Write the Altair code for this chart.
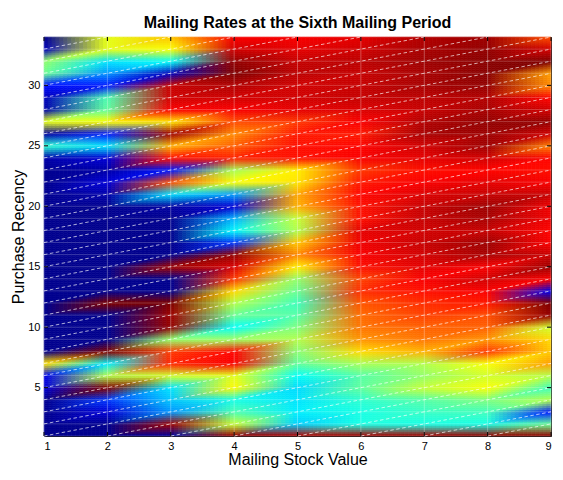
import altair as alt
import pandas as pd

alt.data_transformers.disable_max_rows()

TITLE = "Mailing Rates at the Sixth Mailing Period"
X_TITLE = "Mailing Stock Value"
Y_TITLE = "Purchase Recency"
x_ticks = [1, 2, 3, 4, 5, 6, 7, 8, 9]
y_ticks = [5, 10, 15, 20, 25, 30]

# Mailing rate on a 0-100 colour-map position, listed from recency 34 down to 1
col1 = [0,5,52,48,14,5,3,60,2,42,3,0,0,0,0,0,0,0,0,0,0,0,0,0,0,0,0,65,10,8,0,0,0,0]
col2 = [60,60,35,27,15,45,47,62,15,35,8,3,8,3,0,0,0,0,0,0,0,0,100,0,0,0,100,36,55,100,18,8,0,0]
col3 = [68,62,38,5,93,92,88,65,97,70,86,15,80,34,2,0,0,0,0,97,0,0,100,97,98,52,82,84,58,35,32,27,97,2]
col4 = [88,92,98,100,95,92,88,80,74,78,84,54,62,28,8,30,37,18,98,91,82,66,55,48,38,53,87,88,60,63,40,45,57,97]
col5 = [88,90,93,94,92,92,90,82,85,86,86,64,65,71,70,57,55,68,74,64,52,48,44,46,50,55,51,47,38,34,35,36,33,95]
col6 = [90,92,94,93,93,93,91,88,85,87,88,82,85,87,86,86,90,89,88,86,81,83,79,77,76,73,66,54,46,47,42,40,40,96]
col7 = [95,96,97,96,96,94,93,95,96,92,90,86,88,91,93,93,92,93,92,90,88,86,83,81,78,76,70,55,52,57,46,43,40,96]
col8 = [97,98,99,99,98,95,96,98,97,97,92,87,90,93,97,96,93,97,96,88,92,88,85,80,78,73,82,62,58,62,50,44,40,98]
col9 = [80,92,100,72,74,87,92,98,92,75,87,86,88,93,89,89,87,88,93,97,88,10,100,98,58,66,68,72,55,44,55,15,48,98]

columns = [col1, col2, col3, col4, col5, col6, col7, col8, col9]
recency = list(range(34, 0, -1))
stock = x_ticks


def jet(p):
    p = p / 100
    stops = [(0, (0, 0, .5625)), (.125, (0, 0, 1)), (.375, (0, 1, 1)),
             (.625, (1, 1, 0)), (.875, (1, 0, 0)), (1, (.5, 0, 0))]
    for (a, ca), (b, cb) in zip(stops, stops[1:]):
        if p <= b:
            t = (p - a) / (b - a)
            return tuple(x + (y - x) * t for x, y in zip(ca, cb))
    return stops[-1][1]


vertex = {(s, r): jet(columns[i][k]) for i, s in enumerate(stock) for k, r in enumerate(recency)}

# Gouraud shading of the triangular mesh: the colours of each triangle's corners are blended
NX, NY = 16, 6
rows = []
for s in stock[:-1]:
    for r in range(1, 34):
        c00, c10 = vertex[(s, r)], vertex[(s + 1, r)]
        c01, c11 = vertex[(s, r + 1)], vertex[(s + 1, r + 1)]
        for i in range(NX):
            u = (i + .5) / NX
            for j in range(NY):
                v = (j + .5) / NY
                if v >= u:
                    w = [(1 - v, c00), (u, c11), (v - u, c01)]
                else:
                    w = [(1 - u, c00), (v, c11), (u - v, c10)]
                rgb = [sum(a * c[n] for a, c in w) for n in range(3)]
                rows.append({
                    "x": round(s + i / NX, 4), "x2": round(s + (i + 1) / NX, 4),
                    "y": round(r + j / NY, 4), "y2": round(r + (j + 1) / NY, 4),
                    "c": "#%02x%02x%02x" % tuple(int(round(255 * q)) for q in rgb),
                })
cells = pd.DataFrame(rows)

xs = alt.Scale(domain=[1, 9], nice=False, zero=False)
ys = alt.Scale(domain=[1, 34], nice=False, zero=False)
FONT = "Liberation Sans"

heat = alt.Chart(cells).mark_rect(strokeWidth=0.6).encode(
    x=alt.X("x:Q", scale=xs, axis=alt.Axis(title=X_TITLE, values=x_ticks, format="d", grid=False, tickSize=0,
                                           domain=False, labelPadding=4, titlePadding=0,
                                           labelFont=FONT, labelFontSize=11, titleFont=FONT, titleFontSize=16,
                                           titleFontWeight="normal", labelColor="#000", titleColor="#000")),
    x2="x2:Q",
    y=alt.Y("y:Q", scale=ys, axis=alt.Axis(title=Y_TITLE, values=y_ticks, format="d", grid=False, tickSize=0,
                                           domain=False, labelPadding=4, titlePadding=1,
                                           labelFont=FONT, labelFontSize=11, titleFont=FONT, titleFontSize=16,
                                           titleFontWeight="normal", labelColor="#000", titleColor="#000")),
    y2="y2:Q",
    color=alt.Color("c:N", scale=None),
    stroke=alt.Stroke("c:N", scale=None),
)

vgrid = alt.Chart(pd.DataFrame({"x": stock})).mark_rule(color="white", opacity=0.3, strokeWidth=1).encode(
    x=alt.X("x:Q", scale=xs))
hgrid = alt.Chart(pd.DataFrame({"y": list(range(1, 35))})).mark_rule(color="white", opacity=0.2, strokeWidth=1).encode(
    y=alt.Y("y:Q", scale=ys))

edges = []
for c in range(-8, 34):
    pts = [(s, s + c) for s in stock if 1 <= s + c <= 34]
    if len(pts) > 1:
        for p in (pts[0], pts[-1]):
            edges.append({"x": p[0], "y": p[1], "k": c})
diag = alt.Chart(pd.DataFrame(edges)).mark_line(color="white", strokeWidth=0.7, strokeDash=[3.5, 2.5], opacity=0.95).encode(
    x=alt.X("x:Q", scale=xs), y=alt.Y("y:Q", scale=ys), detail="k:N")

tx = pd.DataFrame({"x": x_ticks})
ty = pd.DataFrame({"y": y_ticks})
t1 = alt.Chart(tx).mark_rule(color="black").encode(x=alt.X("x:Q", scale=xs), y=alt.value(0), y2=alt.value(4))
t2 = alt.Chart(tx).mark_rule(color="black").encode(x=alt.X("x:Q", scale=xs), y=alt.value(399), y2=alt.value(395))
t3 = alt.Chart(ty).mark_rule(color="black").encode(y=alt.Y("y:Q", scale=ys), x=alt.value(0), x2=alt.value(4))
t4 = alt.Chart(ty).mark_rule(color="black").encode(y=alt.Y("y:Q", scale=ys), x=alt.value(507), x2=alt.value(503))

chart = (heat + vgrid + hgrid + diag + t1 + t2 + t3 + t4).properties(
    width=507, height=399,
    padding={"left": 36, "top": 29, "right": 4, "bottom": 36},
    autosize="none",
    title=alt.TitleParams(TITLE, font=FONT, fontSize=16, fontWeight="bold", color="#000", anchor="middle", offset=5),
).configure_view(stroke="#000", strokeWidth=1).resolve_scale(color="independent")

chart.save("out.html", embed_options={"renderer": "svg", "actions": False})
